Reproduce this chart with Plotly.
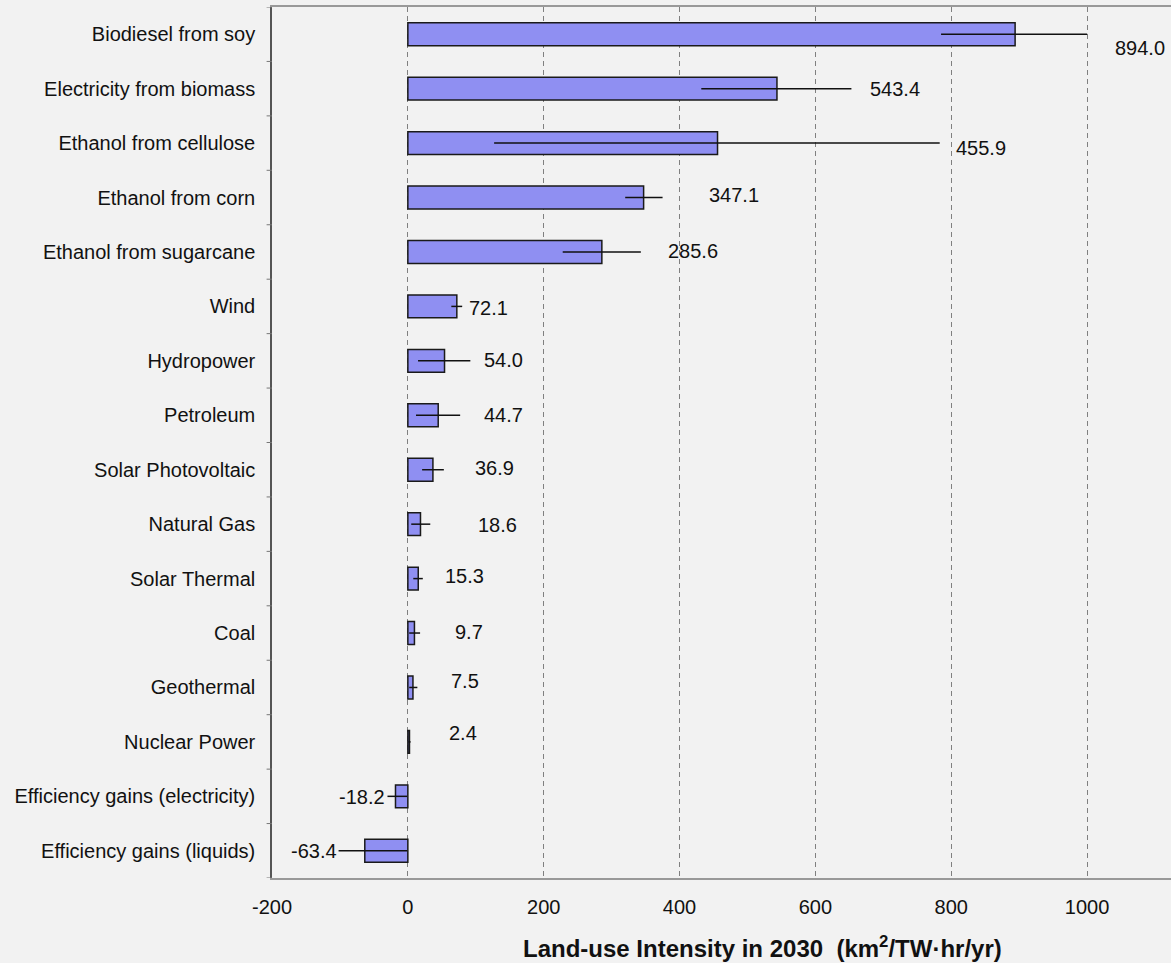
import plotly.graph_objects as go

categories = ["Biodiesel from soy", "Electricity from biomass", "Ethanol from cellulose",
              "Ethanol from corn", "Ethanol from sugarcane", "Wind", "Hydropower",
              "Petroleum", "Solar Photovoltaic", "Natural Gas", "Solar Thermal", "Coal",
              "Geothermal", "Nuclear Power", "Efficiency gains (electricity)",
              "Efficiency gains (liquids)"]
values = [894.0, 543.4, 455.9, 347.1, 285.6, 72.1, 54.0, 44.7, 36.9, 18.6, 15.3, 9.7,
          7.5, 2.4, -18.2, -63.4]
low = [785, 432, 127, 320, 228, 64, 15, 12, 21, 5, 8, 2, 2, 1, -30, -102]
high = [1000, 653, 783, 375, 343, 80, 92, 77, 53, 33, 22, 18, 14, 4, -1, -1]
value_labels = ["894.0", "543.4", "455.9", "347.1", "285.6", "72.1", "54.0", "44.7",
                "36.9", "18.6", "15.3", "9.7", "7.5", "2.4", "-18.2", "-63.4"]
tick_vals = [-200, 0, 200, 400, 600, 800, 1000]

# label placement (layout only)
label_x = [1038, 678, 804, 441, 380, 87, 109, 109, 96, 101, 52, 67, 61, 57, -30, -102]
label_anchor = ["left"] * 14 + ["right", "right"]
label_dy = [0.26, 0, 0.09, -0.05, -0.02, 0.02, -0.02, 0, -0.04, 0.02, -0.04, -0.02,
            -0.11, -0.17, 0.02, 0]

FONT = "Liberation Sans, Arial"

fig = go.Figure()
fig.add_trace(go.Bar(
    y=list(range(len(categories))), x=values, orientation="h", width=0.42,
    marker=dict(color="#8f8ff2", line=dict(color="#1a1a1a", width=1.5)),
    error_x=dict(type="data", symmetric=False,
                 array=[h - v for h, v in zip(high, values)],
                 arrayminus=[v - l for l, v in zip(low, values)],
                 color="#111111", thickness=1.5, width=0),
    hoverinfo="skip",
))

annotations = []
for i, (lx, lab, anc, dy) in enumerate(zip(label_x, value_labels, label_anchor, label_dy)):
    annotations.append(dict(x=lx, y=i + dy, xref="x", yref="y", text=lab, showarrow=False,
                            xanchor=anc, yanchor="middle",
                            font=dict(family=FONT, size=20, color="#111")))
annotations.append(dict(x=(762 - 272) / 899, y=-0.079, xref="paper", yref="paper",
                        text="<b>Land-use Intensity in 2030  (km<sup>2</sup>/TW·hr/yr)</b>",
                        showarrow=False, xanchor="center", yanchor="middle",
                        font=dict(family=FONT, size=24, color="#111")))

fig.update_layout(
    width=1171, height=963,
    margin=dict(l=272, r=0, t=7, b=85),
    paper_bgcolor="#f2f2f2", plot_bgcolor="#f2f2f2",
    showlegend=False,
    annotations=annotations,
    xaxis=dict(range=[-200, 1123.5], tickvals=tick_vals, ticktext=[str(t) for t in tick_vals],
               showgrid=True, gridcolor="#808080", griddash="5px,4px", gridwidth=1,
               zeroline=False, showline=True, linecolor="#999999", linewidth=2,
               mirror=True, ticks="", ticklabelstandoff=10,
               tickfont=dict(family=FONT, size=20, color="#111")),
    yaxis=dict(range=[len(categories) - 0.5, -0.5], tickvals=list(range(len(categories))),
               ticktext=categories, showgrid=False, zeroline=False, showline=True,
               linecolor="#555555", linewidth=1.5, ticks="",
               ticklabelstandoff=11,
               tickfont=dict(family=FONT, size=20, color="#111")),
)

# category boundary tick marks on left axis
shapes = []
for i in range(len(categories) + 1):
    shapes.append(dict(type="line", xref="paper", yref="y", x0=-0.006, x1=0,
                       y0=i - 0.5, y1=i - 0.5, line=dict(color="#777", width=1)))
fig.update_layout(shapes=shapes)

fig.write_html("out.html")
